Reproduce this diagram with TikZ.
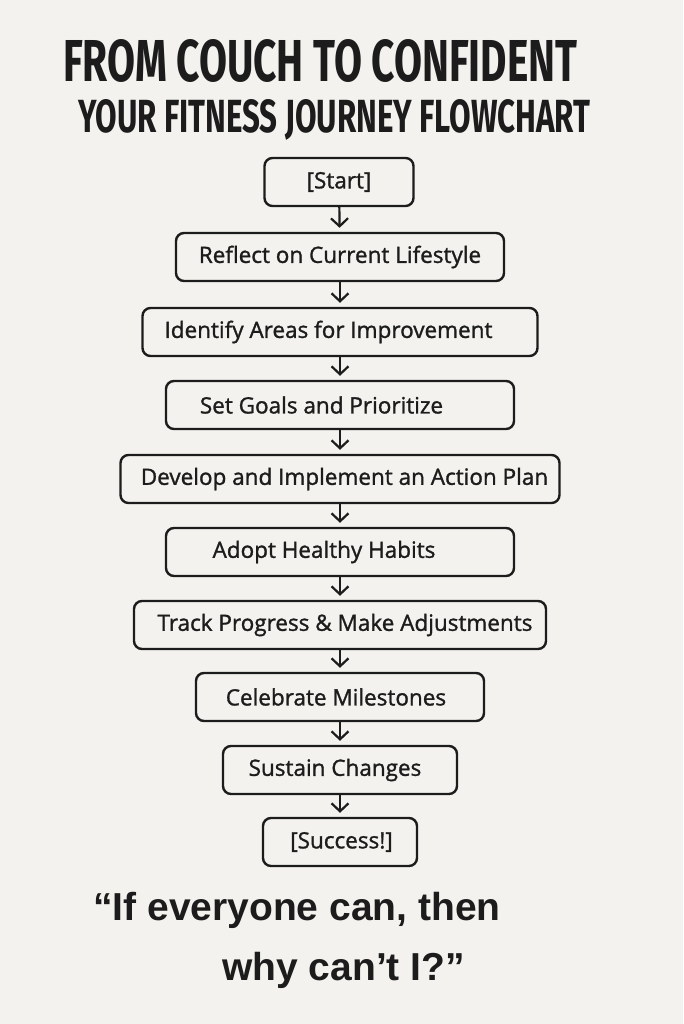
\documentclass[tikz,border=0pt]{standalone}
\usepackage{fontspec}
\usepackage{graphicx}
\usepackage{xcolor}
\usetikzlibrary{arrows.meta,positioning}
\newfontfamily\titlefont{Fira Sans}
\newfontfamily\boxfont{Open Sans}[BoldFont=*, BoldFeatures={FakeBold=1.3}]
\newfontfamily\quotefont{Liberation Sans}
\definecolor{paper}{HTML}{F3F2EE}
\definecolor{ink}{HTML}{1C1C1C}

\begin{document}
\begin{tikzpicture}[x=1pt,y=-1pt,
    stepbox/.style={draw=ink, line width=2.4pt, rounded corners=8pt,
      minimum height=48pt, inner sep=0pt, text=ink,
      font=\boxfont\bfseries\fontsize{22.5}{26}\selectfont},
    nudge/.style={execute at begin node={\hspace*{#1}}},
    arr/.style={draw=ink, line width=2.2pt,
      -{Straight Barb[length=8pt,width=17pt,line width=2.2pt]}, shorten >=4pt}]
  % background and page size
  \fill[paper] (0,0) rectangle (683,1024);
  \useasboundingbox (0,0) rectangle (683,1024);
  % title
  \node[anchor=base west, text=ink, inner sep=0pt] (title) at (63,82)
    {\resizebox{514pt}{42pt}{\titlefont\bfseries FROM COUCH TO CONFIDENT}};
  \node[anchor=base west, text=ink, inner sep=0pt] (subtitle) at (78,133)
    {\resizebox{512pt}{33pt}{\titlefont\bfseries YOUR FITNESS JOURNEY FLOWCHART}};
  % the steps
  \node[stepbox, minimum width=149pt] (start) at (339,182) {[Start]};
  \node[stepbox, minimum width=328pt] (reflect) at (340,257) {Reflect on Current Lifestyle};
  \node[stepbox, minimum width=395pt, nudge=-23pt] (identify) at (340,332) {Identify Areas for Improvement};
  \node[stepbox, minimum width=348pt, nudge=-37pt] (goals) at (340,405) {Set Goals and Prioritize};
  \node[stepbox, minimum width=439pt, nudge=9pt] (plan) at (340,479) {Develop and Implement an Action Plan};
  \node[stepbox, minimum width=348pt, nudge=-32pt] (habits) at (340,552) {Adopt Healthy Habits};
  \node[stepbox, minimum width=412pt, nudge=10pt] (track) at (340,625) {Track Progress \& Make Adjustments};
  \node[stepbox, minimum width=288pt, nudge=-8pt] (celebrate) at (340,697) {Celebrate Milestones};
  \node[stepbox, minimum width=234pt, nudge=-10pt] (sustain) at (340,770) {Sustain Changes};
  \node[stepbox, minimum width=154pt, nudge=3pt] (success) at (340,842) {[Success!]};
  % arrows
  \foreach \a/\b in {start/reflect, reflect/identify, identify/goals,
      goals/plan, plan/habits, habits/track, track/celebrate,
      celebrate/sustain, sustain/success}
    \draw[arr] (\a) -- (\b);
  % quote
  \node[anchor=base west, text=ink, inner sep=0pt,
    font=\quotefont\bfseries\fontsize{39}{44}\selectfont] (quote1) at (93,920)
    {“If everyone can, then};
  \node[anchor=base west, text=ink, inner sep=0pt,
    font=\quotefont\bfseries\fontsize{39}{44}\selectfont] (quote2) at (222,980)
    {why can’t I?”};
\end{tikzpicture}
\end{document}
